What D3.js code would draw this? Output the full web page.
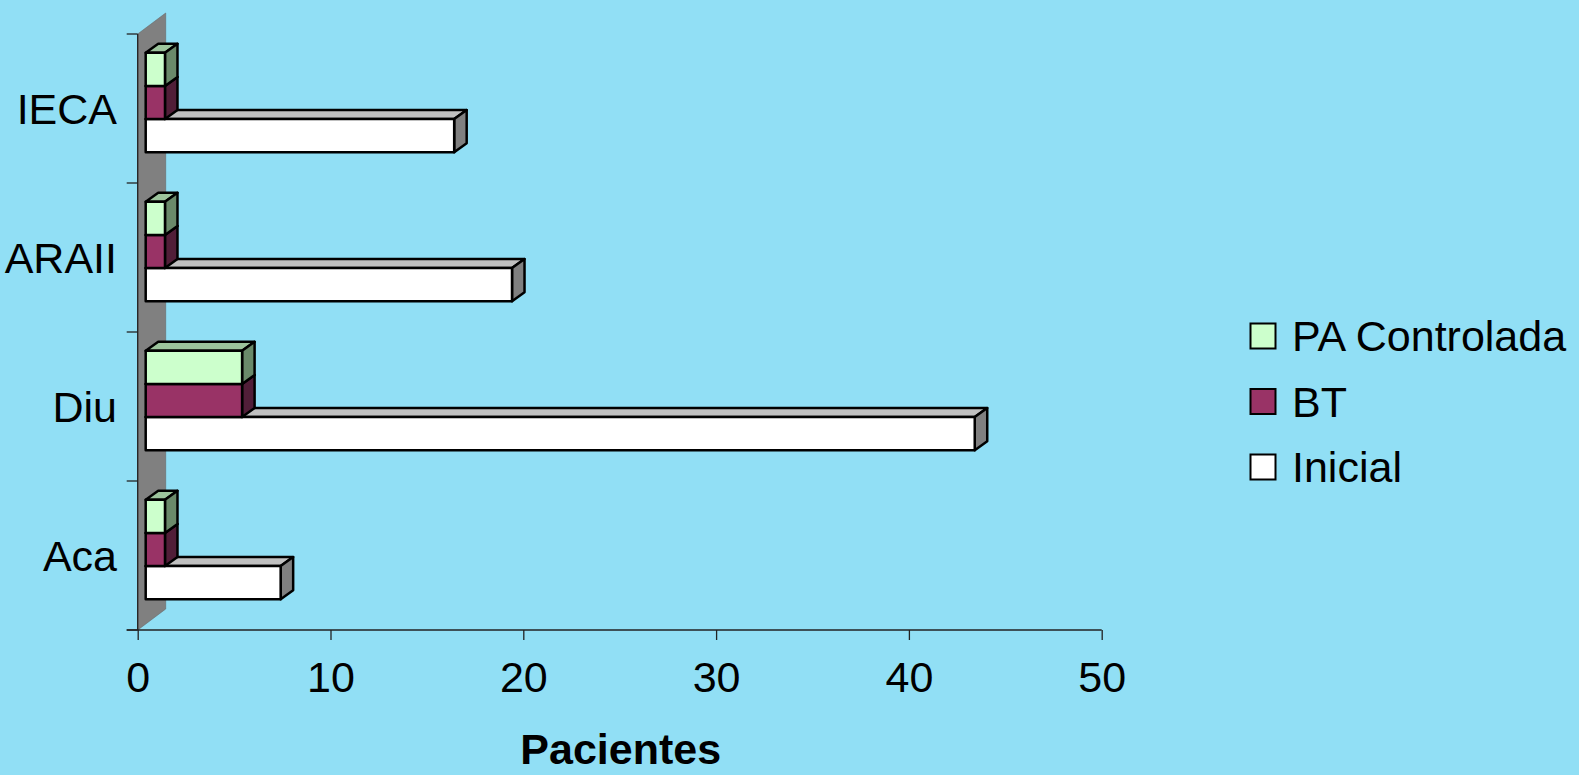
<!DOCTYPE html>
<html>
<head>
<meta charset="utf-8">
<script src="https://cdn.jsdelivr.net/npm/d3@7"></script>
<style>
  html, body { margin: 0; padding: 0; background: #91DFF5; }
  svg { display: block; }
  text { font-family: "Liberation Sans", Arial, sans-serif; fill: #000; }
</style>
</head>
<body>
<svg id="chart" width="1579" height="775"></svg>
<script>
// ---- data ----
const categories = ["IECA", "ARAII", "Diu", "Aca"];
const seriesNames = ["PA Controlada", "BT", "Inicial"];
const inicial = [16, 19, 43, 7];
const bt = [1, 1, 5, 1];
const paControlada = [1, 1, 5, 1];
const xTicks = [0, 10, 20, 30, 40, 50];
const xTitle = "Pacientes";

// ---- setup ----
const svg = d3.select("#chart");
svg.append("rect").attr("width", 1579).attr("height", 775).attr("fill", "#91DFF5");

const fontSize = 43;
const x = d3.scaleLinear().domain([0, 50]).range([137.7, 1101.7]);
const y = d3.scaleBand().domain(categories).range([34, 630]);
const ySub = d3.scaleBand().domain(seriesNames).range([0, y.bandwidth()]).paddingInner(0).paddingOuter(0.75);

const colors = {
  "PA Controlada": {front: "#CCFFCC", top: "#9CC49C", side: "#6A8A6A"},
  "BT": {front: "#993366", top: "#6E2549", side: "#511E38"},
  "Inicial": {front: "#FFFFFF", top: "#C0C0C0", side: "#808080"}
};

// depth geometry
const wallDX = 28, wallDY = -21;
const frontDX = 8, frontDY = -6;
const barDX = 12.5, barDY = -9;

// wall
const x0 = x(0), yTop = y.range()[0], yBot = y.range()[1];
svg.append("polygon")
  .attr("points", [[x0, yBot], [x0, yTop], [x0 + wallDX, yTop + wallDY], [x0 + wallDX, yBot + wallDY]].map(p => p.join(",")).join(" "))
  .attr("fill", "#808080").attr("stroke", "#666").attr("stroke-width", 0.6);

// vertical axis line + ticks
svg.append("line").attr("x1", x0).attr("x2", x0).attr("y1", yTop).attr("y2", yBot)
  .attr("stroke", "#222").attr("stroke-width", 1.3);
const yTickPos = categories.map(c => y(c)).concat([yBot]);
svg.selectAll(".ytick").data(yTickPos).enter().append("line")
  .attr("x1", x0 - 11).attr("x2", x0).attr("y1", d => d).attr("y2", d => d)
  .attr("stroke", "#222").attr("stroke-width", 1.3);

// horizontal axis
const xAxis = d3.axisBottom(x).tickValues(xTicks).tickSize(10).tickPadding(20).tickFormat(d3.format("d"));
const gx = svg.append("g").attr("transform", `translate(0,${yBot})`).call(xAxis);
gx.select(".domain").attr("stroke", "#222").attr("stroke-width", 1.3).attr("d", `M${x0 - 11},0H${x(50)}`);
gx.selectAll(".tick line").attr("stroke", "#222").attr("stroke-width", 1.3);
gx.selectAll(".tick text")
  .attr("font-size", fontSize).attr("font-family", "'Liberation Sans', Arial, sans-serif")
  .attr("fill", "#000").attr("dy", null).attr("y", 62);

// category labels
svg.selectAll(".cat").data(categories).enter().append("text")
  .attr("x", 117).attr("y", d => y(d) + y.bandwidth() / 2 + 0.358 * fontSize)
  .attr("text-anchor", "end").attr("font-size", fontSize).text(d => d);

// bars
const valuesBySeries = {"PA Controlada": paControlada, "BT": bt, "Inicial": inicial};
const drawOrder = ["Inicial", "BT", "PA Controlada"];
const gBars = svg.append("g");
categories.forEach((cat, i) => {
  drawOrder.forEach(s => {
    const v = valuesBySeries[s][i];
    const xl = x(0) + frontDX, xr = x(v) + frontDX;
    const yt = y(cat) + ySub(s) + frontDY, yb = yt + ySub.bandwidth();
    const c = colors[s];
    const g = gBars.append("g").attr("stroke", "#000").attr("stroke-width", 2.5).attr("stroke-linejoin", "round");
    // top face
    g.append("polygon").attr("fill", c.top)
      .attr("points", [[xl, yt], [xr, yt], [xr + barDX, yt + barDY], [xl + barDX, yt + barDY]].map(p => p.join(",")).join(" "));
    // side face
    g.append("polygon").attr("fill", c.side)
      .attr("points", [[xr, yt], [xr + barDX, yt + barDY], [xr + barDX, yb + barDY], [xr, yb]].map(p => p.join(",")).join(" "));
    // front face
    g.append("rect").attr("fill", c.front)
      .attr("x", xl).attr("y", yt).attr("width", xr - xl).attr("height", yb - yt);
  });
});

// axis title
svg.append("text").attr("x", (x(0) + x(50)) / 2 + 1).attr("y", 764)
  .attr("text-anchor", "middle").attr("font-size", fontSize).attr("font-weight", "bold").text(xTitle);

// legend
const legend = svg.append("g");
const legendY = d3.scalePoint().domain(seriesNames).range([336, 467]);
seriesNames.forEach(s => {
  const cy = legendY(s);
  legend.append("rect").attr("x", 1250.5).attr("y", cy - 12.5).attr("width", 25).attr("height", 25)
    .attr("fill", colors[s].front).attr("stroke", "#000").attr("stroke-width", 2);
  legend.append("text").attr("x", 1292).attr("y", cy + 15).attr("font-size", fontSize).text(s);
});
</script>
</body>
</html>
